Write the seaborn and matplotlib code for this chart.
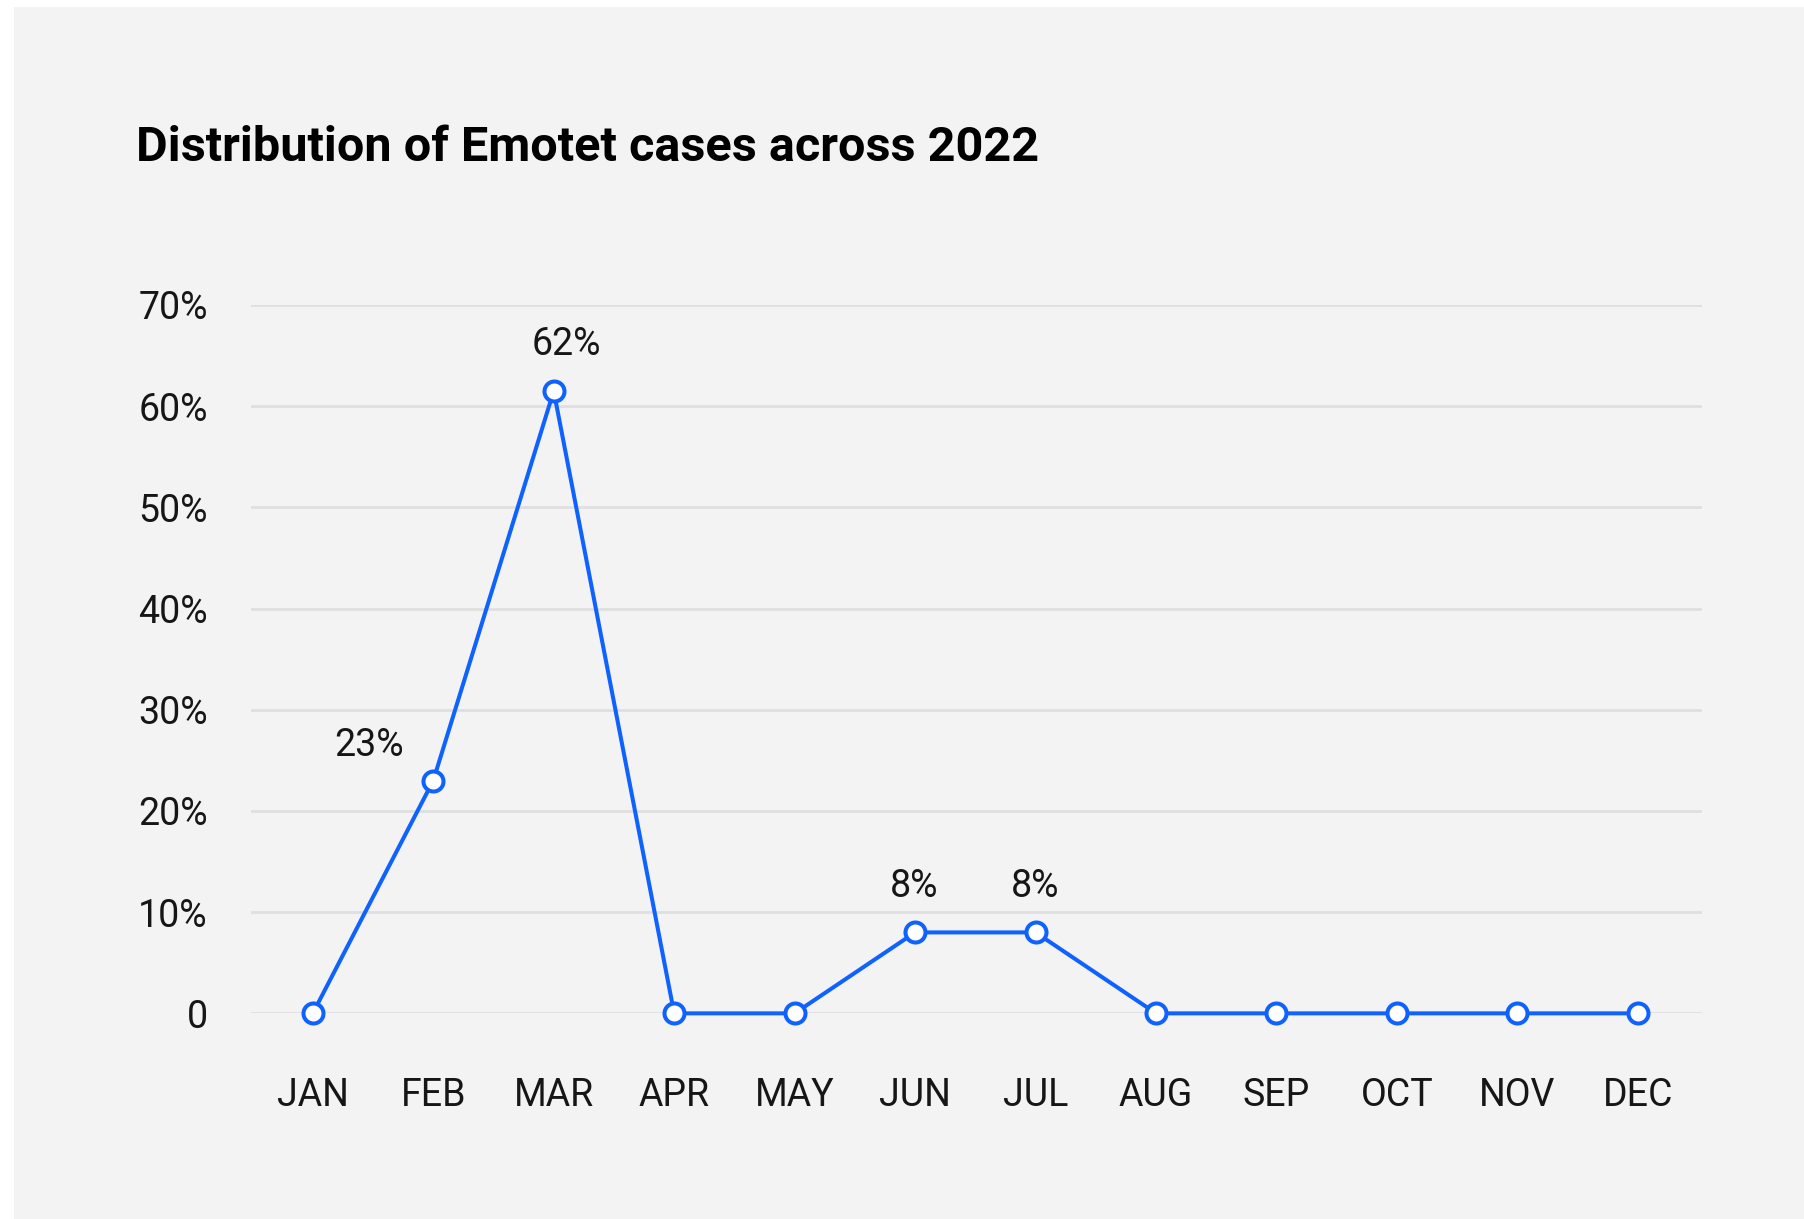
import matplotlib
matplotlib.use("Agg")
import matplotlib.pyplot as plt
from matplotlib.patches import Rectangle
import seaborn as sns
import pandas as pd

# data
months = ["JAN", "FEB", "MAR", "APR", "MAY", "JUN", "JUL", "AUG", "SEP", "OCT", "NOV", "DEC"]
share = [0, 23, 61.5, 0, 0, 8, 8, 0, 0, 0, 0, 0]
yticks = [0, 10, 20, 30, 40, 50, 60, 70]
ytick_labels = ["0", "10%", "20%", "30%", "40%", "50%", "60%", "70%"]
note_months = ["FEB", "MAR", "JUN", "JUL"]
note_text = ["23%", "62%", "8%", "8%"]
note_offsets = [(-64, 35), (13, 47), (-1, 46), (0, 46)]  # pixels

blue = "#0f62fe"
panel = "#f3f3f3"
ink = "#161616"
grid = "#dfdfe3"

sns.set_theme(style="white")
plt.rcParams["font.family"] = ["Roboto", "DejaVu Sans"]

df = pd.DataFrame({"month": months, "share": share})

fig = plt.figure(figsize=(18.04, 12.19), dpi=100, facecolor="white")
# grey card behind the chart
fig.patches.append(Rectangle((14 / 1804, 0), 1 - 14 / 1804, 1 - 7 / 1219,
                             transform=fig.transFigure, facecolor=panel,
                             edgecolor="none", zorder=-5))
ax = fig.add_axes([0.139, 0.1687, 0.9433 - 0.139, 0.7498 - 0.1687])
ax.set_zorder(2)
ax.set_facecolor("none")

for y in yticks:
    ax.axhline(y, color=grid, lw=2, zorder=1)

sns.lineplot(data=df, x="month", y="share", ax=ax, color=blue, lw=2.9,
             marker="o", markersize=14.4, markerfacecolor="white",
             markeredgecolor=blue, markeredgewidth=2.9, clip_on=False, zorder=3)

for m, t, (dx, dy) in zip(note_months, note_text, note_offsets):
    i = months.index(m)
    ax.annotate(t, (i, share[i]), xytext=(dx, dy), textcoords="offset pixels",
                ha="center", va="center", fontsize=27, color=ink)

ax.set_xlim(-0.515, 11.53)
ax.set_ylim(0, 70)
ax.set_yticks(yticks)
ax.set_yticklabels(ytick_labels)
ax.set_xticks(range(len(months)))
ax.set_xticklabels(months)
ax.tick_params(axis="both", length=0, labelsize=27, labelcolor=ink)
ax.tick_params(axis="y", pad=31)
ax.tick_params(axis="x", pad=46)
ax.set_xlabel("")
ax.set_ylabel("")
sns.despine(ax=ax, left=True, bottom=True)

fig.text(136 / 1804, 1 - 161 / 1219, "Distribution of Emotet cases across 2022",
         fontsize=35, fontweight="bold", color="black", va="baseline", ha="left")

fig.savefig("out.png", dpi=100, facecolor="white")
